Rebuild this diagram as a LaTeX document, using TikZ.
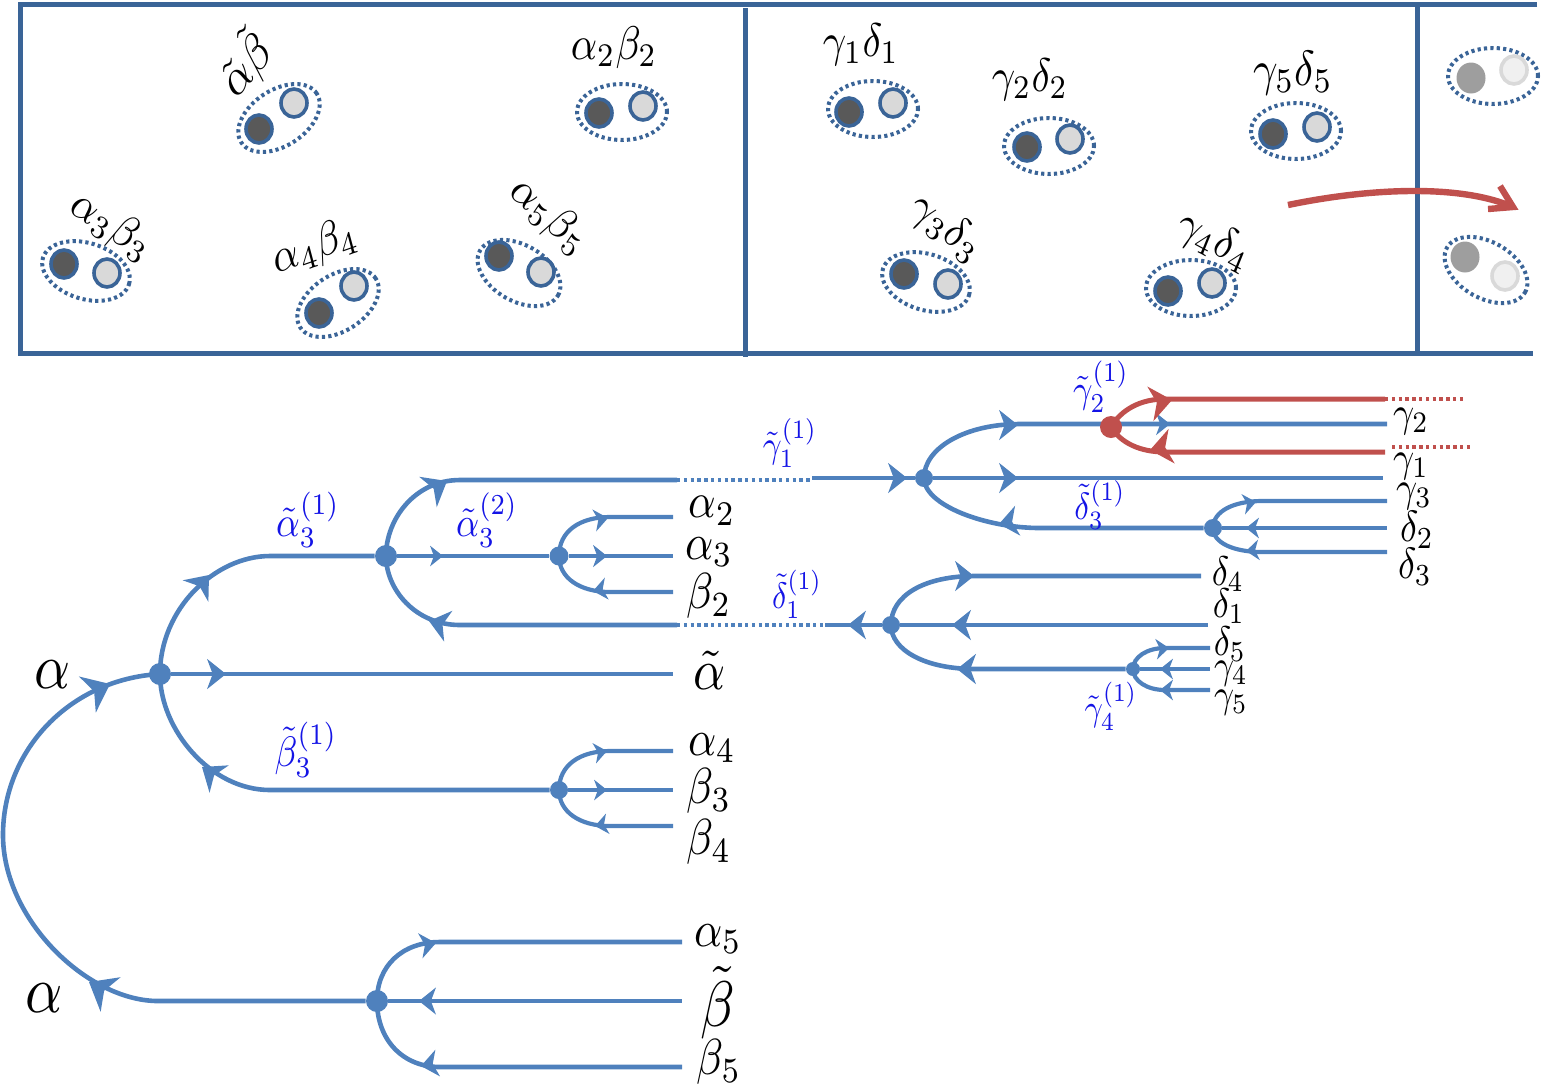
\documentclass[tikz,border=0pt]{standalone}
\usetikzlibrary{shapes.geometric}
\definecolor{framecol}{HTML}{3A6497}
\definecolor{treeblue}{HTML}{4F81BD}
\definecolor{redcol}{HTML}{C0504D}
\definecolor{darkdot}{HTML}{595959}
\definecolor{lightdot}{HTML}{D9D9D9}
\definecolor{labelblue}{RGB}{20,20,230}
\tikzset{
  framel/.style={draw=framecol,line width=2.5pt},
  pairring/.style={ellipse,draw=framecol,line width=2pt,dash pattern=on 1.6pt off 1.6pt,minimum width=45pt,minimum height=28pt,inner sep=0pt},
  darkd/.style={ellipse,draw=framecol,fill=darkdot,line width=1.8pt,minimum width=13pt,minimum height=14pt,inner sep=0pt},
  lightd/.style={ellipse,draw=framecol,fill=lightdot,line width=1.8pt,minimum width=13pt,minimum height=14pt,inner sep=0pt},
  fadedark/.style={ellipse,draw=none,fill=black!38,minimum width=14.5pt,minimum height=15.5pt,inner sep=0pt},
  fadelight/.style={ellipse,draw=black!15,fill=black!6,line width=1.8pt,minimum width=13pt,minimum height=14pt,inner sep=0pt},
  txt/.style={inner sep=0pt,xscale=#1,yscale=1.15*#1},
  txt/.default=2.05,
  blab/.style={inner sep=0pt,xscale=#1,yscale=1.15*#1,text=labelblue},
  bl/.style={draw=treeblue,line width=2.3pt},
  bls/.style={draw=treeblue,line width=2.1pt},
  rl/.style={draw=redcol,line width=2.5pt},
  bdot/.style={draw=treeblue,line width=2.1pt,dash pattern=on 1.7pt off 1.7pt},
  rdot/.style={draw=redcol,line width=2.2pt,dash pattern=on 1.7pt off 1.7pt},
  jn/.style={circle,fill=treeblue,inner sep=0pt,minimum size=#1},
  rjn/.style={circle,fill=redcol,inner sep=0pt,minimum size=#1},
  btip/.style={fill=treeblue},
  rtip/.style={fill=redcol},
  tipmark/.pic={\path[pic actions] (0,0) -- (-1,.8) -- (-.7,0) -- (-1,-.8) -- cycle;}
}
\begin{document}
\begin{tikzpicture}[x=0.5pt,y=-0.5pt]
\useasboundingbox (0,0) rectangle (1546,1089);
% frame
\coordinate (ftl) at (20,4); \coordinate (ftr) at (1537,4);
\coordinate (fbl) at (20,353); \coordinate (fbr) at (1533,353);
\coordinate (d1t) at (745,8); \coordinate (d1b) at (745,357);
\coordinate (d2t) at (1417,4); \coordinate (d2b) at (1417,353);
\draw[framel] (ftr) -- (ftl) -- (fbl) -- (fbr);
\draw[framel] (d1t) -- (d1b);
\draw[framel] (d2t) -- (d2b);
% pairs
\foreach \n/\cx/\cy/\ang/\dx/\dy/\lx/\ly in {
 1/279/118/33/259/129/294/103, 2/622/112/0/599/113/643/106, 3/86/271/-17/64/264/107/273,
 4/338/303/33/319/313/354/286, 5/519/273/-30/499/256/541/272, 6/873/109/0/849/112/893/103,
 7/1049/146/0/1027/147/1070/139, 8/1296/131/0/1273/134/1317/127, 9/926/282/-17/904/274/948/284,
 10/1191/288/0/1168/291/1212/283}{
  \node[pairring,rotate=\ang] (ring\n) at (\cx,\cy) {};
  \node[darkd] (dark\n) at (\dx,\dy) {};
  \node[lightd] (light\n) at (\lx,\ly) {};
}
\node[pairring] (ring11) at (1493,76) {};
\node[fadedark] (dark11) at (1471,78) {};
\node[fadelight] (light11) at (1514,70) {};
\node[pairring,rotate=-30] (ring12) at (1486,270) {};
\node[fadedark] (dark12) at (1465,257) {};
\node[fadelight] (light12) at (1505,276) {};
% pair labels
\node[txt=2.2,rotate=45] (t1) at (245,64) {$\tilde\alpha\tilde\beta$};
\node[txt] (t2) at (614,48) {$\alpha_2\beta_2$};
\node[txt,rotate=-30] (t3) at (111,226) {$\alpha_3\beta_3$};
\node[txt,rotate=17] (t4) at (315,248) {$\alpha_4\beta_4$};
\node[txt,rotate=-38] (t5) at (549,216) {$\alpha_5\beta_5$};
\node[txt] (t6) at (861,45) {$\gamma_1\delta_1$};
\node[txt] (t7) at (1030,80) {$\gamma_2\delta_2$};
\node[txt=2.15] (t8) at (1293,73) {$\gamma_5\delta_5$};
\node[txt,rotate=-35] (t9) at (946,228) {$\gamma_3\delta_3$};
\node[txt,rotate=-25] (t10) at (1214,241) {$\gamma_4\delta_4$};
% red curved arrow
\coordinate (ra) at (1288,205); \coordinate (rb) at (1513,207);
\coordinate (rc) at (1500,186); \coordinate (rd) at (1488,209);
\draw[redcol,line width=3.2pt] (ra) .. controls (1370,188) and (1460,184) .. (rb);
\draw[redcol,line width=3.2pt] (rc) -- (rb) -- (rd);
% junctions
\node[jn=11pt] (J1) at (160,674) {};
\node[jn=11pt] (J2) at (377,1001) {};
\node[jn=11pt] (J3) at (386,556) {};
\node[jn=9pt] (J4) at (559,790) {};
\node[jn=9pt] (J5) at (924,478) {};
\node[jn=9.5pt] (J6) at (559,556) {};
\node[jn=9pt] (J7) at (891,625) {};
\node[jn=9pt] (J9) at (1213,528) {};
\node[jn=7pt] (J10) at (1133,669) {};
% big arc
\coordinate (L) at (3,835); \coordinate (arcb) at (158,1001);
\draw[bl] (J1.center) .. controls +(-90,5) and +(0,-85) .. (L) .. controls +(0,85) and +(-70,0) .. (arcb) -- (J2);
% J1 branches
\coordinate (a1) at (270,556); \coordinate (a2) at (673,674); \coordinate (a3) at (270,790);
\draw[bl] (J1.center) .. controls +(0,-65) and +(-55,0) .. (a1) -- (J3);
\draw[bl] (J1) -- (a2);
\draw[bl] (J1.center) .. controls +(0,55) and +(-60,0) .. (a3) -- (J4);
% J3 branches
\coordinate (b1) at (460,480); \coordinate (b2) at (677,480); \coordinate (b2e) at (812,480); \coordinate (b3) at (812,478);
\draw[bl] (J3.center) .. controls +(0,-37) and +(-45,0) .. (b1) -- (b2);
\draw[bdot] (b2) -- (b2e);
\draw[bl] (b3) -- (J5);
\draw[bl] (J3) -- (J6);
\coordinate (c1) at (460,625); \coordinate (c2) at (677,625); \coordinate (c3) at (825,625);
\draw[bl] (J3.center) .. controls +(0,33) and +(-45,0) .. (c1) -- (c2);
\draw[bdot] (c2) -- (c3);
\draw[bl] (c3) -- (J7);
% J6
\coordinate (e1) at (610,517); \coordinate (e2) at (673,517); \coordinate (e3) at (673,556);
\coordinate (e4) at (610,592); \coordinate (e5) at (673,592);
\draw[bls] (J6.center) .. controls +(0,-25) and +(-30,0) .. (e1) -- (e2);
\draw[bls] (J6) -- (e3);
\draw[bls] (J6.center) .. controls +(0,22) and +(-30,0) .. (e4) -- (e5);
% J4
\coordinate (f1) at (610,751); \coordinate (f2) at (673,751); \coordinate (f3) at (673,790);
\coordinate (f4) at (610,826); \coordinate (f5) at (673,826);
\draw[bls] (J4.center) .. controls +(0,-25) and +(-30,0) .. (f1) -- (f2);
\draw[bls] (J4) -- (f3);
\draw[bls] (J4.center) .. controls +(0,22) and +(-30,0) .. (f4) -- (f5);
% J2
\coordinate (g1) at (440,942); \coordinate (g2) at (682,942); \coordinate (g3) at (682,1001);
\coordinate (g4) at (440,1067); \coordinate (g5) at (682,1067);
\draw[bl] (J2.center) .. controls +(0,-35) and +(-38,0) .. (g1) -- (g2);
\draw[bl] (J2) -- (g3);
\draw[bl] (J2.center) .. controls +(0,38) and +(-38,0) .. (g4) -- (g5);
% J5
\coordinate (h1) at (1020,424); \coordinate (h2) at (1387,424); \coordinate (h3) at (1383,478);
\coordinate (h4) at (1040,528);
\draw[bl] (J5.center) .. controls +(0,-30) and +(-55,0) .. (h1) -- (h2);
\draw[bl] (J5) -- (h3);
\draw[bl] (J5.center) .. controls +(0,27) and +(-55,0) .. (h4) -- (J9);
% J9
\coordinate (i1) at (1262,501); \coordinate (i2) at (1387,501); \coordinate (i3) at (1387,528);
\coordinate (i4) at (1262,552); \coordinate (i5) at (1387,552);
\draw[bls] (J9.center) .. controls +(0,-17) and +(-28,0) .. (i1) -- (i2);
\draw[bls] (J9) -- (i3);
\draw[bls] (J9.center) .. controls +(0,15) and +(-28,0) .. (i4) -- (i5);
% J7
\coordinate (k1) at (975,576); \coordinate (k2) at (1201,576); \coordinate (k3) at (1208,625);
\coordinate (k4) at (975,669);
\draw[bl] (J7.center) .. controls +(0,-30) and +(-50,0) .. (k1) -- (k2);
\draw[bl] (J7) -- (k3);
\draw[bl] (J7.center) .. controls +(0,25) and +(-50,0) .. (k4) -- (J10);
% J10
\coordinate (m1) at (1165,648); \coordinate (m2) at (1210,648); \coordinate (m3) at (1210,669);
\coordinate (m4) at (1165,690); \coordinate (m5) at (1210,690);
\draw[bls] (J10.center) .. controls +(0,-12) and +(-18,0) .. (m1) -- (m2);
\draw[bls] (J10) -- (m3);
\draw[bls] (J10.center) .. controls +(0,12) and +(-18,0) .. (m4) -- (m5);
% red vertex
\node[rjn=11pt] (J8) at (1111,427) {};
\coordinate (r1) at (1165,399); \coordinate (r2) at (1385,399); \coordinate (r3) at (1466,399);
\coordinate (r4) at (1165,452); \coordinate (r5) at (1385,452);
\coordinate (r6) at (1392,447); \coordinate (r7) at (1473,447);
\draw[rl] (J8.center) .. controls +(10,-17) and +(-25,0) .. (r1) -- (r2);
\draw[rdot] (r2) -- (r3);
\draw[rl] (J8.center) .. controls +(10,16) and +(-25,0) .. (r4) -- (r5);
\draw[rdot] (r6) -- (r7);
% arrow marks
\pic[btip,scale=25,rotate=25] at (110,684) {tipmark};
\pic[btip,scale=25,rotate=150] at (89,982) {tipmark};
\pic[btip,scale=21,rotate=50] at (209,575) {tipmark};
\pic[btip,scale=19,rotate=0] at (226,674) {tipmark};
\pic[btip,scale=21,rotate=145] at (202,767) {tipmark};
\pic[btip,scale=22,rotate=30] at (447,481) {tipmark};
\pic[btip,scale=13,rotate=0] at (443,556) {tipmark};
\pic[btip,scale=20,rotate=165] at (429,621) {tipmark};
\pic[btip,scale=14,rotate=10] at (608,518) {tipmark};
\pic[btip,scale=14,rotate=0] at (607,556) {tipmark};
\pic[btip,scale=14,rotate=190] at (593,591) {tipmark};
\pic[btip,scale=13,rotate=10] at (607,751) {tipmark};
\pic[btip,scale=13,rotate=0] at (607,790) {tipmark};
\pic[btip,scale=13,rotate=190] at (595,826) {tipmark};
\pic[btip,scale=16,rotate=10] at (436,943) {tipmark};
\pic[btip,scale=17,rotate=180] at (419,1001) {tipmark};
\pic[btip,scale=17,rotate=190] at (421,1066) {tipmark};
\pic[btip,scale=19,rotate=0] at (907,478) {tipmark};
\pic[btip,scale=19,rotate=0] at (1018,425) {tipmark};
\pic[btip,scale=19,rotate=0] at (1018,478) {tipmark};
\pic[btip,scale=19,rotate=190] at (999,524) {tipmark};
\pic[btip,scale=14,rotate=0] at (1170,424) {tipmark};
\pic[btip,scale=13,rotate=10] at (1256,502) {tipmark};
\pic[btip,scale=13,rotate=180] at (1246,528) {tipmark};
\pic[btip,scale=13,rotate=185] at (1246,551) {tipmark};
\pic[btip,scale=18,rotate=180] at (848,625) {tipmark};
\pic[btip,scale=19,rotate=0] at (974,576) {tipmark};
\pic[btip,scale=19,rotate=180] at (952,625) {tipmark};
\pic[btip,scale=19,rotate=180] at (957,669) {tipmark};
\pic[btip,scale=13,rotate=5] at (1169,648) {tipmark};
\pic[btip,scale=13,rotate=180] at (1160,669) {tipmark};
\pic[btip,scale=13,rotate=180] at (1160,690) {tipmark};
\pic[rtip,scale=22,rotate=10] at (1172,400) {tipmark};
\pic[rtip,scale=22,rotate=190] at (1150,450) {tipmark};
% leaf labels
\node[txt=2.15] (la1) at (712,511) {$\alpha_2$};
\node[txt=2.2] (la2) at (709,552) {$\alpha_3$};
\node[txt=2.2] (la3) at (709,596) {$\beta_2$};
\node[txt=2.5] (la4) at (710,670) {$\tilde\alpha$};
\node[txt=2.2] (la5) at (712,748) {$\alpha_4$};
\node[txt=2.2] (la6) at (709,791) {$\beta_3$};
\node[txt=2.2] (la7) at (709,842) {$\beta_4$};
\node[txt=2.2] (la8) at (718,939) {$\alpha_5$};
\node[txt=2.8] (la9) at (718,1003) {$\tilde\beta$};
\node[txt=2.2] (la10) at (719,1062) {$\beta_5$};
\node[txt=2.8] (la11) at (53,675) {$\alpha$};
\node[txt=2.9] (la12) at (44,998) {$\alpha$};
\node[txt=1.85] (la13) at (1411,421) {$\gamma_2$};
\node[txt=1.85] (la14) at (1411,466) {$\gamma_1$};
\node[txt=1.85] (la15) at (1414,496) {$\gamma_3$};
\node[txt=1.9] (la16) at (1417,530) {$\delta_2$};
\node[txt=1.9] (la17) at (1415,567) {$\delta_3$};
\node[txt=1.8] (la18) at (1228,574) {$\delta_4$};
\node[txt=1.8] (la19) at (1229,606) {$\delta_1$};
\node[txt=1.8] (la20) at (1230,644) {$\delta_5$};
\node[txt=1.75] (la21) at (1231,674) {$\gamma_4$};
\node[txt=1.75] (la22) at (1231,703) {$\gamma_5$};
% blue labels
\node[blab=1.85] (bb1) at (308,520) {$\tilde\alpha_3^{(1)}$};
\node[blab=1.8] (bb2) at (487,520) {$\tilde\alpha_3^{(2)}$};
\node[blab=1.85] (bb3) at (306,750) {$\tilde\beta_3^{(1)}$};
\node[blab=1.65] (bb4) at (790,443) {$\tilde\gamma_1^{(1)}$};
\node[blab=1.6] (bb5) at (797,594) {$\tilde\delta_1^{(1)}$};
\node[blab=1.7] (bb6) at (1101,387) {$\tilde\gamma_2^{(1)}$};
\node[blab=1.65] (bb7) at (1100,505) {$\tilde\delta_3^{(1)}$};
\node[blab=1.6] (bb8) at (1111,706) {$\tilde\gamma_4^{(1)}$};
\end{tikzpicture}
\end{document}
